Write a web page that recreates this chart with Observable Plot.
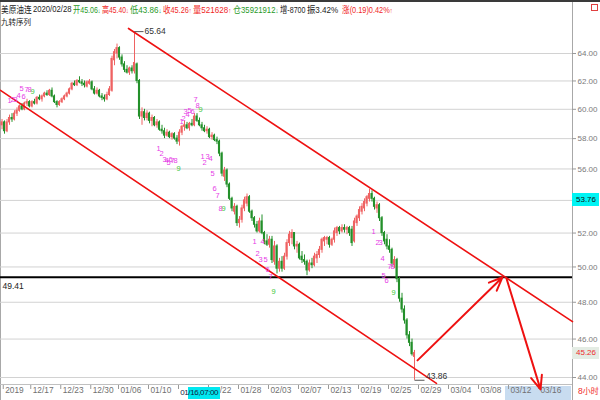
<!DOCTYPE html>
<html><head><meta charset="utf-8">
<script src="https://cdn.jsdelivr.net/npm/d3@7"></script>
<script src="https://cdn.jsdelivr.net/npm/@observablehq/plot@0.6"></script>
<style>
html,body{margin:0;padding:0;background:#fff;}
#wrap{position:relative;width:600px;height:400px;overflow:hidden;background:#fff;font-family:"Liberation Sans","Noto Sans CJK SC",sans-serif;}
#wrap svg{position:absolute;left:0;top:0;}
.ov{position:absolute;white-space:nowrap;line-height:1;}
.hd{position:absolute;top:5px;white-space:nowrap;line-height:1;font-size:9.2px;font-family:"Liberation Sans","Noto Sans CJK SC",sans-serif;transform-origin:0 0;}
.cj{font-family:"Noto Sans CJK SC",sans-serif;font-size:9.5px;}
.a{font-size:7px;}
.r{color:#f02828}.g{color:#1f9a1f}.k{color:#222}
</style></head><body>
<div id="wrap">
  <div class="ov" style="left:0;top:0;width:600px;height:2px;background:#3a3a3a"></div>
  <div class="ov" style="left:0;top:2px;width:1px;height:398px;background:#a8a8a8"></div>
  <div class="ov" style="left:572px;top:2px;width:1px;height:398px;background:#a8a8a8"></div>
  <div class="ov" style="left:0;top:384px;width:572px;height:1px;background:#c0c0c0"></div>
  <div class="ov" style="left:505px;top:386px;width:66px;height:14px;background:#c8dcf0"></div>
  <div class="ov" style="left:591px;top:4px;width:5px;height:5px;border:1px solid #e04040"></div>
  <div id="hdr"></div>
  <div class="ov k" style="left:1px;top:18px;font-family:'Noto Sans CJK SC';font-size:7.5px">九转序列</div>
  <div class="ov r" style="left:578px;top:387px;font-size:8.5px">8<span class="cj" style="font-size:8px">小时</span></div>
</div>
<script>
// ---- data (8-hour bars, 美原油连) ----
const opens = [58.9,59.1,58.5,59.1,59.4,59.3,59.7,59.9,60.2,60.0, 60.4,60.5,60.2,60.5,60.4,60.8,60.7,60.9,61.1,61.0, 61.3,60.9,60.5,60.3,60.5,60.7,60.9,61.1,61.4,61.8, 61.7,62.0,61.9,61.8,61.6,61.8,61.9,61.4,61.1,61.3, 60.9,60.8,60.7,61.0,61.3,63.5,64.0,64.4,63.7,63.2, 62.8,62.6,62.9,62.7,63.2,62.0,59.5,59.8,59.4,59.7, 59.2,59.4,58.9,59.1,58.6,58.5,58.2,58.4,58.1,58.3, 58.0,57.8,58.4,58.8,58.9,58.7,59.0,58.9,59.5,59.2, 58.9,58.7,58.5,58.6,58.1,58.2,57.9,57.8,57.0,55.5, 55.9,55.0,54.1,53.3,53.6,52.6,52.8,53.5,53.8,54.2, 53.3,52.9,52.5,52.1,52.7,52.0,51.5,51.3,51.6,50.3, 51.2,49.9,50.3,49.9,50.6,51.4,51.7,52.0,51.2,51.3, 50.6,50.4,50.3,49.8,50.2,50.1,50.5,50.7,51.0,51.5, 51.6,51.7,51.3,51.6,52.0,52.3,52.1,52.3,52.2,52.3, 52.2,51.5,52.6,52.9,53.3,53.5,53.8,54.1,54.4,54.1, 53.5,53.7,52.9,52.0,51.6,51.2,51.0,50.1,50.4,49.3, 48.2,47.6,47.0,46.2,45.8,45.06];
const highs = [59.3,59.2,59.3,59.6,59.7,59.9,60.1,60.3,60.4,60.5, 60.7,60.6,60.6,60.7,60.9,61.0,61.0,61.2,61.3,61.4, 61.5,61.0,60.6,60.6,60.8,61.0,61.2,61.5,61.9,62.0, 62.1,62.3,62.1,62.0,62.0,62.1,62.0,61.6,61.5,61.4, 61.1,61.0,61.2,61.6,63.8,64.3,64.7,64.5,63.9,63.4, 63.1,63.0,63.1,65.64,63.3,62.1,60.1,60.0,59.9,59.8, 59.6,59.5,59.3,59.2,58.9,58.7,58.6,58.5,58.4,58.4, 58.2,58.6,58.9,59.2,59.1,59.1,59.3,59.7,59.7,59.4, 59.1,58.9,58.8,58.7,58.4,58.3,58.1,57.9,57.1,56.1, 56.0,55.1,54.2,53.8,53.7,53.0,53.7,54.2,54.4,54.3, 53.4,53.0,52.7,52.9,53.1,52.1,51.9,51.8,51.8,51.5, 51.3,50.5,50.6,50.8,51.6,52.1,52.2,52.0,51.5,51.4, 50.9,50.7,50.4,50.4,50.5,50.8,50.9,51.2,51.7,51.8, 51.8,51.8,51.7,52.3,52.4,52.4,52.5,52.5,52.4,52.4, 52.4,52.9,53.1,53.6,53.8,54.1,54.3,54.7,54.6,54.2, 53.9,53.8,53.0,52.1,51.9,51.6,51.1,50.6,50.5,49.4, 48.5,47.8,47.1,46.4,46.0,45.40];
const lows = [58.6,58.3,58.4,58.9,59.1,59.2,59.5,59.8,59.9,59.9, 60.2,60.1,60.1,60.3,60.3,60.6,60.5,60.8,60.9,60.9, 60.8,60.4,60.1,60.2,60.4,60.6,60.8,61.0,61.3,61.6, 61.6,61.8,61.6,61.5,61.5,61.7,61.3,61.0,61.0,60.8, 60.6,60.5,60.6,60.9,61.2,63.1,63.6,63.5,63.0,62.6, 62.5,62.4,62.5,62.5,61.8,59.3,58.9,59.2,59.2,59.0, 58.8,58.8,58.7,58.5,58.3,58.0,58.1,58.0,57.9,57.9, 57.6,57.5,58.2,58.5,58.6,58.5,58.8,58.8,59.1,58.8, 58.5,58.4,58.3,58.0,57.9,57.8,57.6,56.8,55.5,55.2, 54.8,54.0,53.3,53.1,52.4,52.3,52.6,53.3,53.6,53.2, 52.7,52.3,52.0,52.0,51.9,51.3,51.2,51.1,50.2,50.1, 49.6,49.7,49.7,49.8,50.4,51.2,51.3,51.0,50.8,50.4, 50.2,50.1,49.5,49.7,49.9,50.0,50.2,50.5,50.8,51.2, 51.3,51.1,51.2,51.4,51.8,51.9,52.0,52.0,51.9,51.8, 51.2,51.4,52.4,52.7,53.1,53.3,53.6,53.9,53.9,53.4, 53.2,52.7,51.8,51.3,51.0,50.8,50.0,49.9,49.1,48.0, 47.4,46.8,46.0,45.6,45.1,43.86];
const closes = [59.1,58.5,59.1,59.4,59.3,59.7,59.9,60.2,60.0,60.4, 60.5,60.2,60.5,60.4,60.8,60.7,60.9,61.1,61.0,61.3, 60.9,60.5,60.3,60.5,60.7,60.9,61.1,61.4,61.8,61.7, 62.0,61.9,61.8,61.7,61.9,61.95,61.4,61.1,61.3,60.9, 60.8,60.7,61.0,61.4,63.6,64.1,64.4,63.7,63.2,62.8, 62.6,62.9,62.7,63.3,62.0,59.5,59.8,59.4,59.7,59.2, 59.4,58.9,59.1,58.6,58.5,58.2,58.4,58.1,58.3,58.0, 57.8,58.4,58.8,58.9,58.7,59.0,58.9,59.5,59.2,58.9, 58.7,58.5,58.6,58.1,58.2,57.9,57.8,57.0,55.7,55.9, 55.0,54.1,53.5,53.6,52.6,52.8,53.5,54.0,54.2,53.3, 52.9,52.5,52.1,52.7,52.0,51.5,51.3,51.6,50.4,51.2, 49.9,50.3,49.9,50.6,51.4,51.9,52.0,51.2,51.3,50.5, 50.4,50.3,49.8,50.2,50.1,50.6,50.7,51.0,51.6,51.7, 51.7,51.3,51.6,52.1,52.3,52.1,52.3,52.2,52.3,52.0, 51.4,52.7,53.0,53.4,53.6,53.9,54.2,54.4,54.1,53.6, 53.7,52.9,52.0,51.5,51.2,51.0,50.2,50.4,49.3,48.2, 47.6,47.0,46.2,45.8,45.2,45.26];

const tickBars = [0.5,11.5,23.5,35.5,46.6,58.6,70.6,82.6,94.6,106.6,118.6,130.6,142.6,154.6,166.6,178.6,190.6,202.6,214.6];
const tickLabels = ["2019","12/17","12/23","12/30","01/06","01/10","01/16","01/22","01/28","02/03","02/07","02/13","02/19","02/25","02/29","03/04","03/08","03/12","03/16"];
const yTicks = [44,46,48,50,52,54,56,58,60,62,64];

// header quote line: label, value, arrow, colour
const hdLabels = ["美原油连","开","高","低","收","量","仓","增","振","涨"];
const hdValues = ["2020/02/28","45.06","45.40","43.86","45.26","521628","35921912","-8700","3.42%","(0.19)0.42%"];
const hdArrows = ["","↓","↓","↓","↑","↑","↓","","","↑"];
const hdColors = ["k","g","r","g","r","r","g","k","k","r"];

// 九转序列 labels
const tdText  = ["1","2","3","4","5","6","7","8","9", "1","2","3","4","5","6","7","8","9", "1","2","3","4","5","6","7","8","9", "1","2","3","4","5","6","7","8","9", "1","2","3","4","5","6","7","9", "1","2","3","4","5","6","7","8","9"];
const tdBar   = [3.0,4.2,5.4,6.6,7.8,8.6,9.8,11.0,12.2, 62.6,63.8,65.0,65.8,66.6,67.4,68.2,69.4,70.6, 71.8,72.6,73.4,74.2,75.0,76.2,77.4,78.2,79.4, 80.2,81.0,82.2,83.4,84.2,85.0,86.2,87.4,88.6, 101.0,102.2,103.4,104.2,105.4,106.2,107.4,108.6, 148.6,150.2,151.4,152.2,152.6,153.8,155.0,156.2,156.6];
const tdPrice = [60.62,60.68,60.68,60.97,61.46,60.90,61.39,61.39,61.25, 57.34,57.01,56.62,56.55,56.42,56.62,56.55,56.55,56.03, 59.16,59.37,59.85,59.64,59.92,59.85,60.68,60.27,59.99, 56.81,56.42,56.81,56.69,55.71,54.75,54.31,53.50,53.50, 51.50,50.79,50.44,51.50,50.44,49.86,49.46,48.60, 52.10,51.44,51.44,50.50,49.52,49.23,50.04,50.04,48.55];

// drawn lines
const hLine = 49.41;
const upperBars = [50.6, 228.2], upperPrices = [65.88, 46.94];
const lowerBars = [-0.6, 173.8], lowerPrices = [61.33, 43.70];
const arrowFromBar = [166.2, 201.8], arrowFromPrice = [44.88, 49.34];
const arrowToBar = [200.2, 215.4], arrowToPrice = [49.41, 43.40];
const crossLabel = "01/16,07:00", crossBar = 71.5;
const markPrice = 53.76, lastPrice = 45.26;

// ---- layout ----
const hdLeft = [1, 33, 73, 102, 130, 163, 193, 233, 280, 307, 342, 394];
const xDomain = [-0.6, 228.2], xRange = [0, 572];
const yDomain = [44, 64], yRange = [377, 53];
const RED = "#ef6262", GREEN = "#23902a", LINE = "#ee1111";
const FONT = '"Liberation Sans","Noto Sans CJK SC",sans-serif';

const wrap = document.getElementById("wrap");

// header: each segment starts where it does in the quote bar, squeezed to fit its slot
const hdr = document.getElementById("hdr");
const segs = [`<span class="cj k">${hdLabels[0]}</span>`, `<span class="k">${hdValues[0]}</span>`];
for (let i = 1; i < hdLabels.length; i++) {
  const c = hdColors[i];
  segs.push(`<span class="cj ${c}">${hdLabels[i]}</span><span class="${c}">${hdValues[i]}<span class="a">${hdArrows[i]}</span></span>`);
}
segs.forEach((html, i) => {
  const d = document.createElement("div");
  d.className = "hd";
  d.style.left = hdLeft[i] + "px";
  d.innerHTML = html;
  hdr.appendChild(d);
  const avail = hdLeft[i + 1] - hdLeft[i] - 1.5;
  const s = Math.min(0.88, avail / d.offsetWidth);
  d.style.transform = `scaleX(${s})`;
});

const bars = opens.map((o, i) => ({i, o, h: highs[i], l: lows[i], c: closes[i]}));
const col = d => d.c >= d.o ? RED : GREEN;
const upper = upperBars.map((b, i) => ({b, p: upperPrices[i]}));
const lower = lowerBars.map((b, i) => ({b, p: lowerPrices[i]}));
const arrows = arrowFromBar.map((b, i) => ({x1: b, y1: arrowFromPrice[i], x2: arrowToBar[i], y2: arrowToPrice[i]}));
const peakIdx = highs.indexOf(d3.max(highs));
const lowIdx = lows.indexOf(d3.min(lows));
// the crosshair label sits over the tick label of its own day
const shownTicks = tickBars.map((b, i) => i).filter(i => Math.abs(tickBars[i] - crossBar) > 2);

const chart = Plot.plot({
  width: 600, height: 400,
  marginLeft: 0, marginRight: 28, marginTop: 27, marginBottom: 17,
  x: {domain: xDomain, range: xRange, axis: null},
  y: {type: "log", domain: yDomain, range: yRange, axis: null},
  color: {type: "identity"},
  style: {background: "transparent", fontFamily: FONT, fontSize: "8px", overflow: "visible"},
  marks: [
    Plot.ruleY(yTicks, {stroke: "#d2d2d2", strokeWidth: 1}),
    Plot.ruleY(yTicks, {x1: xDomain[1], x2: xDomain[1] + 1.6, stroke: "#999"}),
    Plot.text(yTicks, {y: d => d, text: d => d.toFixed(2), frameAnchor: "right", textAnchor: "start", dx: 5, fill: "#7a7a7a", fontSize: 8}),
    Plot.ruleX(tickBars, {x: d => d, insetTop: 358, insetBottom: -6, stroke: "#999"}),
    Plot.text(shownTicks, {x: i => tickBars[i], text: i => tickLabels[i], frameAnchor: "bottom", dy: 9, dx: 2, textAnchor: "start", fill: "#707070", fontSize: 8.3}),
    Plot.ruleY([hLine], {stroke: "#000", strokeWidth: 2}),
    Plot.text([hLine], {x: xDomain[0], y: d => d, text: d => d.toFixed(2), textAnchor: "start", dx: 2, dy: 9, fill: "#222", fontSize: 8.5}),
    Plot.ruleX(bars, {x: "i", y1: "l", y2: "h", stroke: col, strokeWidth: 1}),
    Plot.rect(bars, {x1: d => d.i - 0.42, x2: d => d.i + 0.42, y1: d => Math.min(d.o, d.c), y2: d => Math.max(d.o, d.c), fill: col, insetTop: -0.5, insetBottom: -0.5}),
    Plot.line(upper, {x: "b", y: "p", stroke: LINE, strokeWidth: 1.6}),
    Plot.line(lower, {x: "b", y: "p", stroke: LINE, strokeWidth: 1.6}),
    Plot.arrow(arrows, {x1: "x1", y1: "y1", x2: "x2", y2: "y2", stroke: LINE, strokeWidth: 2, headLength: 11, headAngle: 45}),
    Plot.text(tdText, {x: (d, i) => tdBar[i], y: (d, i) => tdPrice[i], text: d => d, fill: d => d === "9" ? "#3cc83c" : "#e63ce6", fontSize: 7.5}),
    Plot.link([0], {x1: peakIdx, x2: peakIdx + 3.6, y1: highs[peakIdx], y2: highs[peakIdx], stroke: "#555"}),
    Plot.text([highs[peakIdx]], {x: peakIdx + 4, y: d => d, text: d => d.toFixed(2), textAnchor: "start", fill: "#333", fontSize: 8.5}),
    Plot.link([0], {x1: lowIdx, x2: lowIdx + 4, y1: lows[lowIdx], y2: lows[lowIdx], stroke: "#555"}),
    Plot.text([lows[lowIdx]], {x: lowIdx + 4.6, y: d => d, text: d => d.toFixed(2), textAnchor: "start", dy: -4, fill: "#333", fontSize: 8.5})
  ]
});
wrap.insertBefore(chart, hdr);

// value boxes on the price axis and crosshair time label
const yS = d3.scaleLog().domain(yDomain).range(yRange);
const xS = d3.scaleLinear().domain(xDomain).range(xRange);
function box(text, left, top, w, h, bg, color, pad, extra) {
  const d = document.createElement("div");
  d.className = "ov";
  d.textContent = text;
  Object.assign(d.style, {left: left + "px", top: top + "px", width: w + "px", height: h + "px", background: bg, color, paddingLeft: pad + "px", boxSizing: "border-box", fontSize: "8px", lineHeight: h + "px", fontFamily: FONT}, extra || {});
  wrap.appendChild(d);
}
box(markPrice.toFixed(2), 572, yS(markPrice) - 11, 27, 13, "#00f4f4", "#111", 4);
box(lastPrice.toFixed(2), 572, yS(lastPrice) - 6, 27, 12, "#e4ece4", "#ee2a2a", 4);
box(crossLabel, xS(crossBar), 387, 41, 12, "linear-gradient(to right, #fff 8px, #00e8f0 8px)", "#102040", 0, {letterSpacing: "-0.4px", width: "40px"});
</script></body></html>
